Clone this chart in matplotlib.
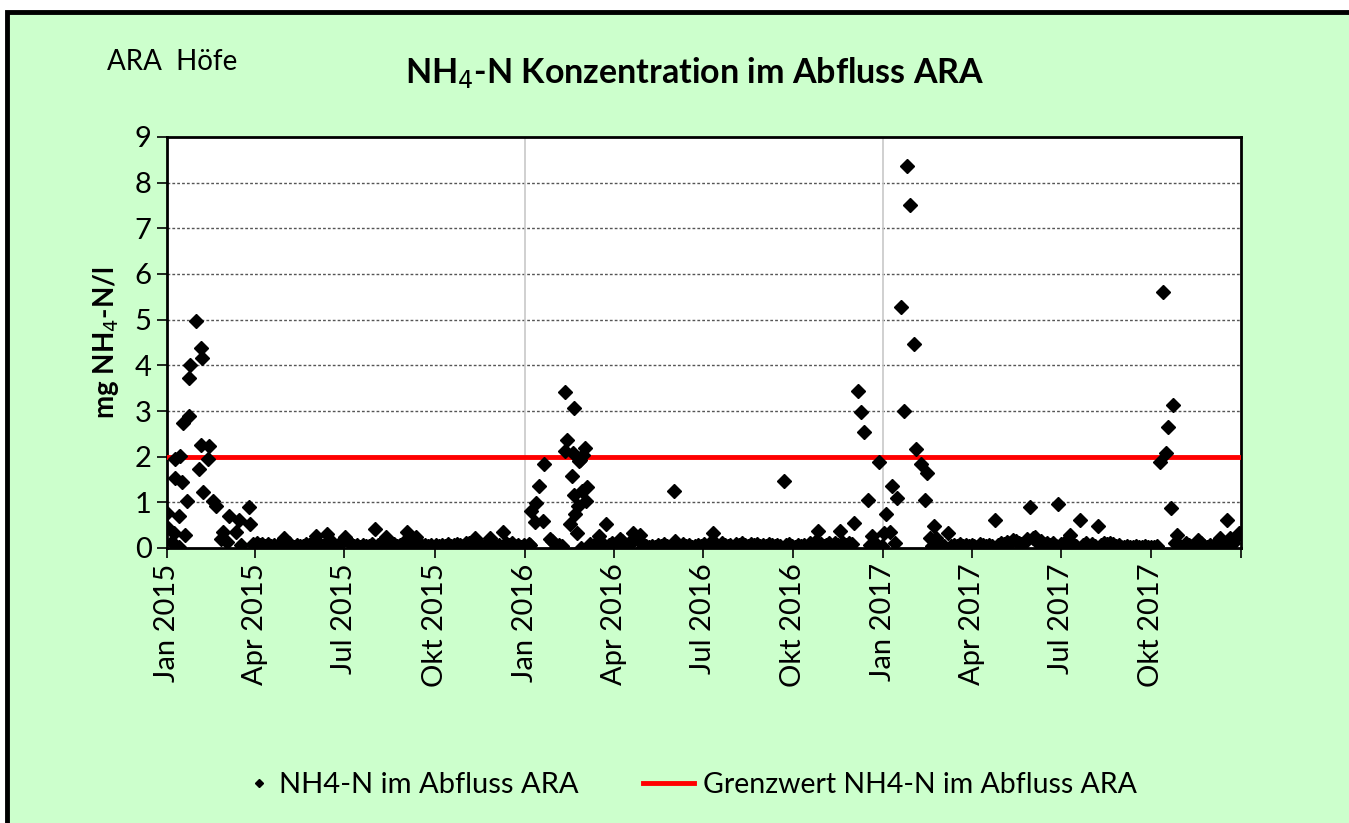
import numpy as np
import matplotlib
matplotlib.use("Agg")
import matplotlib.pyplot as plt
import matplotlib.dates as mdates
from matplotlib.patches import Rectangle

plt.rcParams['font.family'] = ['Lato', 'DejaVu Sans']

# days after 01.01.2015 and NH4-N values (mg/l)
days = [0, 0, 5, 7, 8, 8, 12, 12, 13, 15, 16, 18, 20, 22, 22, 23, 30, 33, 35, 35,
        36, 37, 42, 43, 47, 50, 55, 57, 61, 63, 70, 73, 76, 84, 85,
        88, 90, 92, 95, 97, 100, 103, 106, 109, 112, 115, 119, 121, 124, 127, 130,
        133, 136, 139, 142, 145, 148, 152, 155, 158, 160, 163, 166, 169, 172, 175,
        178, 182, 185, 188, 191, 194, 197, 200, 203, 206, 209, 212, 215, 218, 221,
        223, 226, 229, 232, 235, 238, 241, 245, 248, 251, 254, 257, 260, 263, 266,
        269, 272, 275, 278, 281, 284, 287, 290, 293, 296, 299, 302, 305, 308, 311,
        314, 317, 320, 323, 326, 330, 333, 336, 339, 343, 346, 349, 352, 355, 358,
        361, 364, 369,
        370, 371, 376, 377, 380, 384, 385, 391, 393, 397, 400, 403, 406, 406, 408,
        411, 413, 414, 415, 415, 416, 418, 419, 420, 421, 422, 423, 425, 427, 428,
        429, 432, 435, 438, 441, 443, 446, 448, 451, 454, 457, 460, 462, 464, 467,
        470, 473, 476, 478, 481, 483, 486, 489, 492, 495, 498, 501, 504, 507, 510,
        513, 517, 518, 521, 524, 527, 530, 533, 536, 539, 542, 545, 548, 551, 554,
        557, 560, 563, 566, 569, 572, 575, 578, 581, 584, 587, 590, 593, 596, 599,
        602, 605, 608, 611, 614, 617, 620, 623, 626, 630, 632, 635, 638, 641, 644,
        647, 650, 653, 656, 659, 662, 664, 667, 670, 673, 676, 679, 682, 685, 687,
        690, 693, 696, 699, 701, 705, 708, 711, 715, 717, 719, 720, 722, 724, 727,
        730, 732, 734, 738, 740, 743, 745,
        749, 752, 755, 758, 762, 764, 769, 774, 776, 779, 781, 783, 785, 787, 790,
        793, 797, 800, 803, 806, 809, 812, 815, 818, 821, 824, 827, 830, 833, 836,
        839, 842, 845, 848, 851, 854, 857, 860, 863, 866, 869, 872, 875, 878, 881,
        884, 886, 889, 892, 895, 898, 901, 904, 907, 909, 912, 915, 918, 922, 925,
        928, 932, 935, 938, 941, 944, 947, 950, 953, 956, 959, 962, 965, 968, 971,
        974, 977, 980, 983, 986, 989, 992, 995, 998, 1001, 1004, 1007, 1010, 1013, 1016,
        1019, 1022, 1025, 1027, 1029, 1031, 1034, 1037, 1040, 1043, 1046, 1049, 1052, 1055, 1058,
        1061, 1064, 1067, 1070, 1073, 1075, 1078, 1082, 1085, 1088, 1091, 1094]

nh4 = [0.76, 0.47, 0.14, 0.33, 1.94, 1.53, 0.69, 0.03, 2.01, 1.45, 2.73, 0.28, 1.03, 2.9, 3.72, 4.0, 4.96, 1.74, 4.39, 2.26,
       4.16, 1.22, 1.94, 2.23, 1.04, 0.93, 0.19, 0.36, 0.14, 0.69, 0.34, 0.61, 0.07, 0.9, 0.52,
       0.08, 0.05, 0.1, 0.06, 0.08, 0.04, 0.09, 0.05, 0.07, 0.04, 0.08, 0.21, 0.06, 0.1, 0.05, 0.03,
       0.07, 0.05, 0.04, 0.08, 0.06, 0.1, 0.27, 0.09, 0.05, 0.07, 0.3, 0.06, 0.1, 0.04, 0.07,
       0.12, 0.23, 0.15, 0.08, 0.05, 0.06, 0.03, 0.07, 0.04, 0.05, 0.08, 0.42, 0.06, 0.1, 0.15,
       0.23, 0.12, 0.05, 0.08, 0.04, 0.06, 0.1, 0.36, 0.08, 0.12, 0.23, 0.1, 0.05, 0.07, 0.04,
       0.06, 0.03, 0.07, 0.05, 0.06, 0.04, 0.08, 0.05, 0.06, 0.09, 0.07, 0.04, 0.1, 0.12, 0.08,
       0.21, 0.1, 0.06, 0.04, 0.08, 0.21, 0.1, 0.05, 0.07, 0.36, 0.1, 0.06, 0.12, 0.04, 0.07,
       0.03, 0.06, 0.08,
       0.07, 0.8, 0.58, 0.98, 1.36, 0.6, 1.84, 0.19, 0.15, 0.01, 0.07, 0.05, 3.41, 2.13, 2.36,
       0.53, 1.58, 2.09, 3.07, 1.16, 0.74, 0.32, 0.93, 1.9, 1.92, 0.01, 1.25, 2.04, 2.2, 1.03,
       1.34, 0.08, 0.05, 0.1, 0.26, 0.12, 0.07, 0.53, 0.06, 0.1, 0.05, 0.08, 0.2, 0.15, 0.04,
       0.08, 0.12, 0.32, 0.25, 0.2, 0.28, 0.02, 0.04, 0.03, 0.05, 0.02, 0.06, 0.04, 0.08, 0.05,
       0.03, 1.25, 0.15, 0.06, 0.03, 0.08, 0.04, 0.06, 0.03, 0.05, 0.07, 0.04, 0.08, 0.05, 0.1,
       0.32, 0.08, 0.05, 0.1, 0.06, 0.04, 0.07, 0.03, 0.09, 0.06, 0.1, 0.07, 0.05, 0.08, 0.06,
       0.09, 0.05, 0.07, 0.04, 0.08, 0.06, 0.05, 0.07, 0.04, 1.47, 0.06, 0.08, 0.05, 0.03, 0.07,
       0.04, 0.06, 0.03, 0.1, 0.05, 0.15, 0.38, 0.08, 0.04, 0.06, 0.1, 0.05, 0.12, 0.07, 0.38,
       0.1, 0.06, 0.12, 0.08, 0.55, 3.44, 2.98, 2.55, 1.05, 0.06, 0.27, 0.1, 0.04, 0.08, 1.89,
       0.05, 0.32, 0.74, 0.36, 1.36, 0.1, 1.09,
       5.28, 3.0, 8.37, 7.5, 4.47, 2.17, 1.84, 1.05, 1.65, 0.21, 0.05, 0.49, 0.21, 0.03, 0.06,
       0.04, 0.32, 0.05, 0.07, 0.04, 0.08, 0.05, 0.06, 0.04, 0.07, 0.05, 0.03, 0.08, 0.06, 0.04,
       0.07, 0.05, 0.61, 0.06, 0.1, 0.08, 0.14, 0.12, 0.18, 0.15, 0.1, 0.08, 0.12, 0.2, 0.89,
       0.22, 0.25, 0.1, 0.15, 0.08, 0.12, 0.06, 0.1, 0.05, 0.96, 0.08, 0.1, 0.06, 0.28, 0.08,
       0.05, 0.61, 0.06, 0.1, 0.04, 0.08, 0.05, 0.49, 0.07, 0.1, 0.08, 0.12, 0.09, 0.05, 0.07,
       0.03, 0.02, 0.05, 0.03, 0.02, 0.04, 0.02, 0.03, 0.05, 0.02, 0.03, 0.02, 0.04, 1.89, 5.6,
       2.09, 2.66, 0.88, 3.13, 0.1, 0.28, 0.05, 0.03, 0.1, 0.06, 0.04, 0.08, 0.17, 0.1, 0.05,
       0.03, 0.06, 0.04, 0.03, 0.07, 0.21, 0.05, 0.61, 0.21, 0.12, 0.25, 0.32]

grenzwert = 2.0
tick_dates = ["2015-01-01", "2015-04-01", "2015-07-01", "2015-10-01", "2016-01-01", "2016-04-01",
              "2016-07-01", "2016-10-01", "2017-01-01", "2017-04-01", "2017-07-01", "2017-10-01",
              "2018-01-01"]
tick_labels = ["Jan 2015", "Apr 2015", "Jul 2015", "Okt 2015", "Jan 2016", "Apr 2016",
               "Jul 2016", "Okt 2016", "Jan 2017", "Apr 2017", "Jul 2017", "Okt 2017", ""]

dates = np.datetime64("2015-01-01") + np.array(days).astype("timedelta64[D]")
ticks = mdates.date2num(np.array(tick_dates, dtype="datetime64[D]"))
xmin, xmax = ticks[0], ticks[-1]

fig = plt.figure(figsize=(13.49, 8.23), dpi=100)
fig.patch.set_facecolor("white")
bg = Rectangle((7 / 1349, -0.05), 1.1, (823 - 12) / 823 + 0.05, transform=fig.transFigure,
               facecolor="#ccffcc", edgecolor="black", linewidth=3.5, zorder=-10)
fig.add_artist(bg)

ax = fig.add_axes([167 / 1349, 1 - 548 / 823, (1241 - 167) / 1349, (548 - 137) / 823])
ax.set_facecolor("white")

pts, = ax.plot(mdates.date2num(dates), nh4, linestyle="none", marker="D", markersize=7,
               color="black", label="NH4-N im Abfluss ARA", zorder=4)
lim, = ax.plot([xmin, xmax], [grenzwert, grenzwert], color="#ff0000", linewidth=3.5,
               label="Grenzwert NH4-N im Abfluss ARA", zorder=3)

ax.set_xlim(xmin, xmax)
ax.set_ylim(0, 9)
ax.set_yticks(range(0, 10))
ax.set_xticks(ticks)
ax.set_xticklabels(tick_labels, rotation=90, fontsize=21)
ax.tick_params(axis="y", labelsize=21, length=7, width=1.2, direction="out", pad=4)
ax.tick_params(axis="x", length=7, width=1.2, direction="out", pad=4)

for y in range(1, 9):
    ax.axhline(y, color="#555555", linestyle=(0, (2, 1.5)), linewidth=1, zorder=1)
for t in ticks[4:12:4]:
    ax.axvline(t, color="#c8c8c8", linewidth=1.2, zorder=1)

for side in ["left", "bottom", "top", "right"]:
    ax.spines[side].set_linewidth(2)
    ax.spines[side].set_color("black")

ax.set_ylabel("mg NH$_4$-N/l", fontsize=20, fontweight="bold", labelpad=10)

fig.text(107 / 1349, 1 - 62 / 823, "ARA  Höfe", fontsize=20, ha="left", va="center")
fig.text(695 / 1349, 1 - 73 / 823, "NH$_4$-N Konzentration im Abfluss ARA", fontsize=24.5,
         fontweight="bold", ha="center", va="center")

leg1 = fig.legend(handles=[pts], loc="center left", bbox_to_anchor=(251 / 1349, 1 - 785 / 823),
                  frameon=False, fontsize=21, markerscale=0.55, handlelength=0.55,
                  handletextpad=0.4, borderpad=0, borderaxespad=0)
leg2 = fig.legend(handles=[lim], loc="center left", bbox_to_anchor=(643 / 1349, 1 - 785 / 823),
                  frameon=False, fontsize=20.5, handlelength=1.8,
                  handletextpad=0.3, borderpad=0, borderaxespad=0)

fig.savefig("out.png", dpi=100, facecolor=fig.get_facecolor())
